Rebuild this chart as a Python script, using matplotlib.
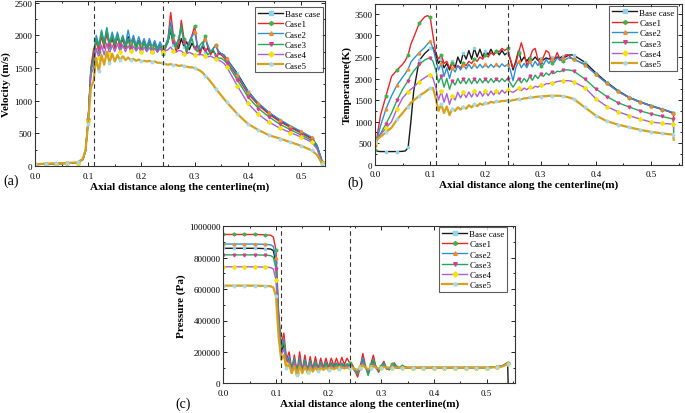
import numpy as np
import matplotlib
matplotlib.use('Agg')
import matplotlib.pyplot as plt
from matplotlib.ticker import MultipleLocator, FormatStrFormatter

# Data #########################################################################
names = ['Base case', 'Case1', 'Case2', 'Case3', 'Case4', 'Case5']

x_osc = [0.110, 0.115, 0.120, 0.125, 0.130, 0.135, 0.140, 0.145, 0.150, 0.155,
         0.160, 0.165, 0.170, 0.175, 0.180, 0.185, 0.190, 0.195, 0.200, 0.205,
         0.210, 0.215, 0.220, 0.225, 0.230, 0.235, 0.240, 0.245, 0.250, 0.255,
         0.260, 0.265, 0.270, 0.275, 0.280, 0.285, 0.290, 0.295, 0.300, 0.305,
         0.310, 0.315, 0.320, 0.325, 0.330, 0.335, 0.340, 0.345, 0.350, 0.355,
         0.360]

# (a) velocity, m/s
x_vel = [0, 0.02, 0.04, 0.06, 0.08, 0.09, 0.095, 0.10, 0.105] + x_osc + \
        [0.38, 0.40, 0.42, 0.44, 0.46, 0.48, 0.50, 0.52, 0.53, 0.54]
vel_base = [20, 30, 35, 40, 50, 100, 230, 700, 1450,
            1700, 1950, 1800, 2000, 1850, 2050, 1850, 1950, 1820, 1980,
            1830, 1950, 1800, 1980, 1850, 1950, 1820, 1920, 1800, 1900,
            1780, 1900, 1780, 1880, 1760, 1850, 1780, 1820, 1900, 2080,
            1850, 1880, 1800, 1950, 1820, 1900, 1780, 1880, 1800, 1850,
            1760, 1830, 1750, 1800, 1720, 1760, 1700, 1720, 1720, 1700, 1640,
            1420, 1150, 950, 810, 700, 600, 515, 425, 310, 60]
vel_c1 = [25, 32, 38, 42, 52, 105, 240, 720, 1500,
          1780, 1900, 1750, 2000, 1800, 2050, 1820, 2000, 1800, 2000,
          1820, 1980, 1800, 1950, 1780, 1950, 1780, 1920, 1770, 1920,
          1760, 1900, 1750, 1880, 1750, 1850, 1720, 1800, 1950, 2350,
          2000, 1750, 1850, 2230, 1950, 1720, 1900, 2000, 2140, 1850,
          1700, 1850, 1990, 1800, 1700, 1800, 1850, 1720, 1700, 1660, 1600,
          1370, 1110, 930, 790, 680, 590, 505, 415, 300, 55]
vel_c2 = [22, 30, 36, 41, 51, 100, 235, 710, 1480,
          1600, 2000, 1850, 2080, 1900, 2120, 1880, 2050, 1900, 2050,
          1880, 2000, 1850, 2080, 1880, 2000, 1850, 1980, 1850, 1950,
          1820, 1950, 1820, 1920, 1800, 1900, 1820, 1850, 1950, 2200,
          1950, 1850, 1950, 2100, 1900, 1800, 1900, 1980, 2050, 1850,
          1780, 1850, 1950, 1850, 1750, 1800, 1850, 1760, 1720, 1700, 1650,
          1400, 1140, 960, 820, 710, 615, 530, 440, 320, 65]
vel_c3 = [22, 31, 36, 41, 50, 100, 230, 700, 1450,
          1650, 1950, 1800, 2050, 1850, 2100, 1850, 2000, 1850, 2000,
          1850, 1980, 1820, 1950, 1800, 1930, 1800, 1900, 1780, 1900,
          1780, 1880, 1760, 1860, 1750, 1850, 1760, 1800, 1900, 2100,
          1900, 1800, 1950, 2150, 1900, 1750, 1850, 1950, 1800, 1750,
          1850, 1900, 1780, 1700, 1750, 1780, 1680, 1650, 1650, 1620, 1580,
          1320, 1060, 880, 750, 640, 555, 475, 390, 280, 50]
vel_c4 = [24, 33, 38, 43, 52, 102, 235, 690, 1400,
          1500, 1800, 1650, 1850, 1700, 1880, 1720, 1850, 1750, 1870,
          1750, 1850, 1750, 1840, 1760, 1830, 1760, 1820, 1750, 1820,
          1750, 1810, 1750, 1800, 1740, 1800, 1740, 1760, 1780, 1820,
          1760, 1740, 1770, 1760, 1720, 1720, 1740, 1720, 1700, 1700,
          1710, 1700, 1680, 1670, 1680, 1660, 1640, 1620, 1600, 1570, 1520,
          1230, 960, 790, 670, 580, 510, 445, 365, 260, 40]
vel_c5 = [28, 36, 42, 46, 55, 110, 250, 650, 1200,
          1300, 1650, 1450, 1700, 1550, 1750, 1580, 1720, 1600, 1700,
          1620, 1680, 1620, 1660, 1620, 1640, 1610, 1630, 1600, 1610,
          1600, 1610, 1590, 1600, 1580, 1580, 1570, 1560, 1550, 1560,
          1540, 1550, 1530, 1540, 1530, 1520, 1510, 1510, 1500, 1480,
          1460, 1430, 1380, 1340, 1290, 1240, 1180, 1130, 1080, 1030, 980,
          800, 645, 550, 470, 420, 365, 310, 240, 170, 30]

# (b) temperature, K
x_tem = [0, 0.005, 0.01, 0.02, 0.03, 0.04, 0.05, 0.055, 0.06, 0.065, 0.07,
         0.08, 0.09, 0.095, 0.10, 0.105] + x_osc + \
        [0.38, 0.40, 0.42, 0.44, 0.46, 0.48, 0.50, 0.52, 0.53, 0.54, 0.541]
tem_base = [350, 310, 305, 305, 305, 305, 310, 320, 400, 1000, 1700, 2420,
            2580, 2640, 2700, 2720,
            2550, 2350, 2450, 2250, 2350, 2200, 2400, 2250, 2500, 2350,
            2600, 2450, 2650, 2450, 2700, 2500, 2680, 2500, 2650, 2550,
            2680, 2550, 2650, 2550, 2650, 2550, 2600, 2450, 2200, 2400,
            2650, 2400, 2500, 2400, 2500, 2420, 2500, 2420, 2480, 2430,
            2480, 2450, 2500, 2460, 2500, 2480, 2520, 2500, 2540, 2550, 2540,
            2380, 2130, 1910, 1720, 1565, 1460, 1370, 1290, 1250, 1200, 1150]
tem_c1 = [350, 750, 1150, 1600, 2050, 2200, 2330, 2420, 2550, 2800, 2950,
          3280, 3430, 3460, 3420, 3000,
          2600, 2450, 2550, 2350, 2400, 2250, 2350, 2250, 2300, 2250,
          2350, 2300, 2400, 2350, 2450, 2400, 2500, 2450, 2550, 2500,
          2600, 2550, 2650, 2620, 2700, 2650, 2700, 2450, 2250, 2350,
          2600, 2830, 2600, 2300, 2450, 2650, 2700, 2450, 2300, 2500,
          2650, 2600, 2350, 2450, 2600, 2450, 2400, 2550, 2550, 2480, 2450,
          2330, 2100, 1890, 1700, 1555, 1450, 1360, 1280, 1240, 1190, 1100]
tem_c2 = [450, 650, 900, 1300, 1600, 1850, 2030, 2120, 2220, 2380, 2460,
          2600, 2720, 2800, 2870, 2700,
          2450, 2200, 2350, 2050, 2250, 2000, 2250, 2150, 2300, 2200,
          2320, 2220, 2330, 2230, 2330, 2240, 2330, 2250, 2330, 2250,
          2330, 2260, 2340, 2260, 2340, 2280, 2330, 2200, 1950, 2250,
          2400, 2250, 2350, 2250, 2400, 2270, 2400, 2300, 2420, 2320,
          2440, 2350, 2460, 2380, 2480, 2420, 2480, 2440, 2480, 2470, 2450,
          2320, 2100, 1890, 1710, 1560, 1460, 1370, 1290, 1250, 1210, 1150]
tem_c3 = [450, 600, 720, 950, 1200, 1500, 1750, 1850, 1950, 2080, 2170,
          2330, 2430, 2460, 2480, 2400,
          2200, 1900, 2050, 1800, 2000, 1750, 1950, 1850, 2000, 1880,
          2000, 1880, 2000, 1880, 2000, 1890, 2000, 1900, 2000, 1900,
          2000, 1910, 2000, 1920, 2000, 1930, 2000, 1900, 1800, 1900,
          2000, 1900, 2000, 1920, 2050, 1960, 2080, 2000, 2100, 2050,
          2130, 2080, 2150, 2120, 2170, 2160, 2190, 2200, 2200, 2190, 2170,
          1990, 1760, 1580, 1440, 1340, 1250, 1180, 1120, 1090, 1060, 750]
tem_c4 = [500, 600, 700, 850, 1000, 1300, 1550, 1620, 1690, 1750, 1800,
          1930, 2020, 2060, 2090, 2000,
          1800, 1500, 1700, 1450, 1650, 1400, 1600, 1500, 1680, 1550,
          1680, 1560, 1690, 1570, 1700, 1580, 1700, 1590, 1700, 1600,
          1710, 1620, 1720, 1640, 1730, 1660, 1740, 1700, 1680, 1720,
          1770, 1720, 1780, 1740, 1800, 1770, 1820, 1800, 1850, 1840,
          1880, 1880, 1900, 1910, 1930, 1940, 1950, 1950, 1950, 1940, 1920,
          1790, 1530, 1350, 1230, 1140, 1060, 990, 960, 950, 940, 850]
tem_c5 = [550, 600, 650, 750, 860, 1050, 1200, 1280, 1350, 1440, 1490,
          1600, 1680, 1730, 1780, 1780,
          1550, 1250, 1400, 1200, 1350, 1150, 1300, 1250, 1330, 1280,
          1350, 1300, 1380, 1330, 1400, 1360, 1420, 1390, 1440, 1420,
          1460, 1440, 1470, 1460, 1480, 1480, 1490, 1480, 1500, 1510,
          1530, 1520, 1540, 1540, 1560, 1560, 1570, 1580, 1580, 1590,
          1590, 1600, 1600, 1600, 1600, 1600, 1590, 1580, 1565, 1545, 1525,
          1330, 1140, 1010, 930, 870, 810, 760, 730, 710, 700, 580]

# (c) pressure, kPa
x_pre = [0, 0.02, 0.04, 0.06, 0.08, 0.09, 0.095, 0.10, 0.105] + x_osc + \
        [0.38, 0.40, 0.42, 0.44, 0.46, 0.48, 0.50, 0.52, 0.53, 0.54, 0.541]
pre_base = [860, 860, 860, 860, 858, 855, 845, 770, 420,
            200, 250, 130, 160, 80, 150, 70, 150, 80, 140,
            80, 140, 90, 130, 90, 130, 95, 130, 95, 125,
            100, 125, 100, 125, 105, 120, 110, 100, 80, 70,
            110, 150, 100, 75, 110, 140, 100, 85, 105, 125,
            95, 95, 110, 115, 100, 100, 105, 100, 100, 100, 100,
            100, 100, 100, 100, 100, 100, 100, 103, 110, 128, 0]
pre_c1 = [948, 948, 948, 948, 946, 943, 932, 850, 460,
          250, 320, 150, 200, 90, 180, 70, 200, 80, 180,
          80, 170, 90, 170, 90, 160, 100, 160, 100, 160,
          110, 160, 110, 165, 120, 160, 130, 120, 80, 40,
          100, 190, 110, 60, 120, 180, 100, 70, 110, 140,
          90, 90, 120, 130, 95, 100, 110, 105, 100, 100, 100,
          100, 100, 100, 100, 100, 100, 100, 104, 112, 132, 132]
pre_c2 = [887, 887, 887, 887, 885, 882, 872, 795, 430,
          220, 280, 140, 170, 80, 160, 65, 160, 75, 150,
          80, 145, 85, 140, 90, 135, 95, 135, 95, 130,
          100, 130, 100, 130, 105, 125, 110, 105, 75, 65,
          110, 160, 100, 70, 110, 150, 100, 80, 105, 130,
          95, 95, 110, 120, 100, 100, 105, 100, 100, 100, 100,
          100, 100, 100, 100, 100, 100, 100, 103, 110, 128, 128]
pre_c3 = [818, 818, 818, 818, 816, 813, 803, 730, 400,
          230, 260, 140, 150, 85, 150, 60, 150, 70, 140,
          75, 140, 85, 135, 90, 130, 95, 130, 95, 130,
          100, 125, 100, 125, 105, 120, 105, 110, 90, 60,
          100, 140, 110, 50, 100, 150, 110, 80, 100, 130,
          100, 85, 100, 120, 110, 95, 100, 105, 100, 100, 100,
          100, 100, 100, 100, 100, 100, 100, 103, 110, 126, 126]
pre_c4 = [742, 742, 742, 742, 740, 737, 728, 660, 360,
          180, 220, 120, 140, 75, 130, 60, 130, 70, 120,
          75, 120, 80, 115, 85, 115, 90, 110, 90, 110,
          95, 110, 95, 110, 100, 110, 100, 100, 85, 75,
          105, 130, 100, 80, 105, 125, 100, 90, 100, 115,
          100, 95, 100, 110, 100, 100, 100, 100, 100, 100, 100,
          100, 100, 100, 100, 100, 100, 100, 103, 108, 124, 124]
pre_c5 = [622, 622, 622, 622, 620, 618, 610, 555, 300,
          150, 180, 100, 120, 65, 110, 55, 110, 65, 105,
          70, 100, 75, 100, 80, 100, 85, 100, 85, 100,
          90, 100, 90, 100, 95, 100, 95, 100, 90, 85,
          100, 115, 100, 90, 100, 110, 100, 95, 100, 105,
          100, 100, 100, 100, 100, 100, 100, 100, 100, 100, 100,
          100, 100, 100, 100, 100, 100, 100, 103, 108, 122, 122]

# Styles: line colour, marker, marker colour, line width
styles = [
    ['#1a1a1a', 's', '#8fd3f0', 1.0],
    ['#e8262a', 'h', '#3cb44b', 1.0],
    ['#2d8fd5', '^', '#f28c28', 1.0],
    ['#26a65b', 'v', '#e0388c', 1.0],
    ['#a85fd0', 'D', '#f2e600', 1.0],
    ['#d4a21e', 'p', '#a6d8f0', 1.6],
]

plt.rcParams['font.family'] = ['Liberation Serif', 'DejaVu Serif']

fig = plt.figure(figsize=(6.85, 4.14), dpi=100)
W, H = 685.0, 414.0


def px_axes(left, top, right, bottom):
    return fig.add_axes([left / W, 1 - bottom / H, (right - left) / W,
                         (bottom - top) / H])


def panel(ax, x, ys, scale, ylabel, ylim, ystep, xmax, anchor, yfmt):
    x = np.array(x)
    marks = list(np.where(np.isclose(x / 0.02, np.round(x / 0.02)))[0])
    for name, y, st in zip(names, ys, styles):
        ax.plot(x, np.array(y) * scale, color=st[0], lw=st[3], marker=st[1],
                ms=2.0, mfc=st[2], mec=st[2], markevery=marks, label=name)
    for xv in (0.11, 0.24):
        ax.axvline(xv, color='#333333', ls='--', lw=0.8, dashes=(4, 3))
    ax.set_xlim(0, xmax)
    ax.set_ylim(*ylim)
    ax.xaxis.set_major_locator(MultipleLocator(0.1))
    ax.xaxis.set_minor_locator(MultipleLocator(0.05))
    ax.xaxis.set_major_formatter(FormatStrFormatter('%.1f'))
    ax.yaxis.set_major_locator(MultipleLocator(ystep))
    ax.yaxis.set_minor_locator(MultipleLocator(ystep / 2))
    ax.yaxis.set_major_formatter(FormatStrFormatter(yfmt))
    ax.tick_params(which='both', direction='in', top=True, right=True,
                   labelsize=6.5, width=0.6)
    ax.tick_params(axis='x', pad=4)
    ax.tick_params(axis='y', pad=2)
    ax.tick_params(which='major', length=3)
    ax.tick_params(which='minor', length=1.5)
    for s in ax.spines.values():
        s.set_linewidth(0.8)
        s.set_color('#333333')
    ax.set_xlabel('Axial distance along the centerline(m)', fontsize=8,
                  fontweight='bold', labelpad=1)
    ax.set_ylabel(ylabel, fontsize=8, fontweight='bold', labelpad=2)
    leg = ax.legend(loc='upper right', bbox_to_anchor=anchor,
                    borderaxespad=0, fontsize=6.5, frameon=True,
                    fancybox=False, edgecolor='#333333', labelspacing=0.22,
                    handlelength=2.8, handletextpad=0.2, borderpad=0.3,
                    markerscale=1.3)
    leg.get_frame().set_linewidth(0.8)


ax_a = px_axes(35, 1.7, 325, 167)
panel(ax_a, x_vel, [vel_base, vel_c1, vel_c2, vel_c3, vel_c4, vel_c5], 1,
      'Velocity (m/s)', (0, 2530), 500, 0.545, (0.993, 0.962), '%d')

ax_b = px_axes(375, 5, 682, 165.7)
panel(ax_b, x_tem, [tem_base, tem_c1, tem_c2, tem_c3, tem_c4, tem_c5], 1,
      'Temperature(K)', (0, 3730), 500, 0.556, (0.984, 0.99), '%d')

ax_c = px_axes(223.3, 227.3, 515, 384.3)
panel(ax_c, x_pre, [pre_base, pre_c1, pre_c2, pre_c3, pre_c4, pre_c5], 1000,
      'Pressure (Pa)', (0, 1000000), 200000, 0.554, (0.973, 0.996), '%d')

fig.text(3 / W, 1 - 181 / H, '(a)', fontsize=10, va='center')
fig.text(347 / W, 1 - 183 / H, '(b)', fontsize=10, va='center')
fig.text(175 / W, 1 - 404 / H, '(c)', fontsize=10, va='center')

fig.savefig('out.png', dpi=100)
